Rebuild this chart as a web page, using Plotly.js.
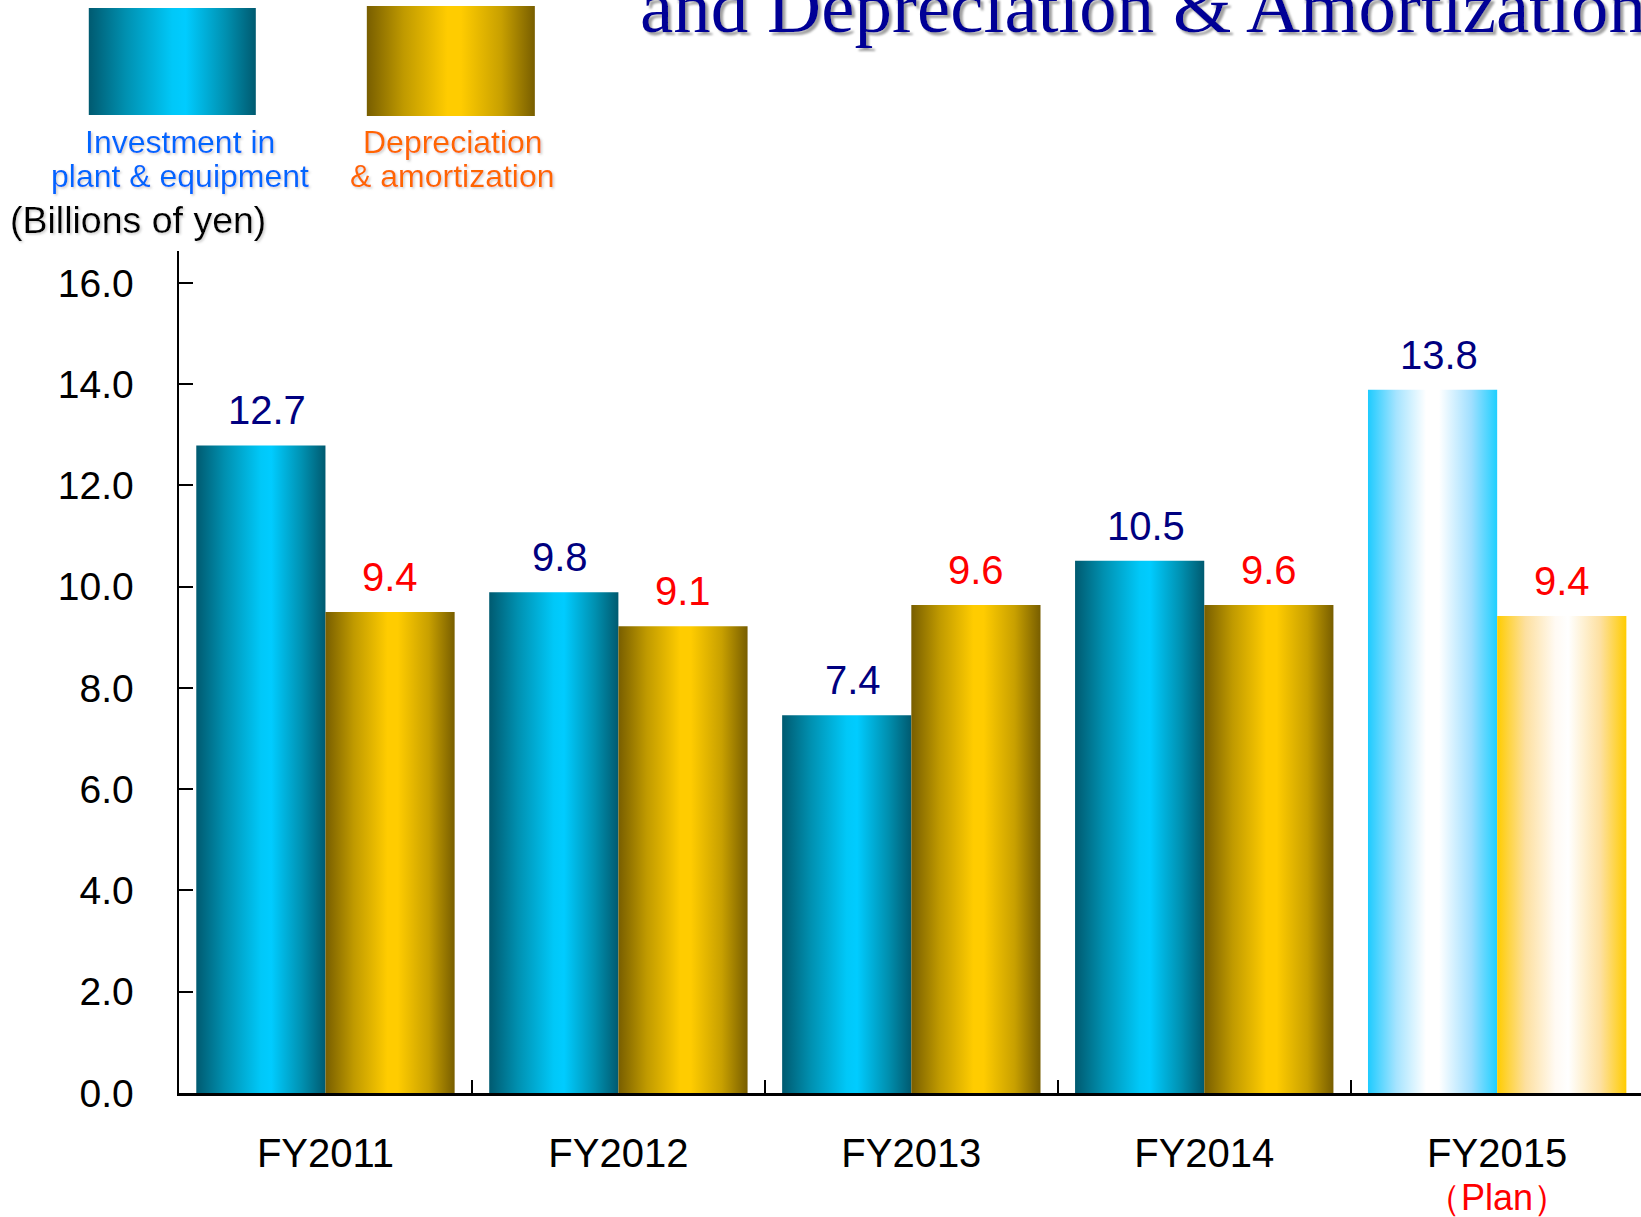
<!DOCTYPE html>
<html><head><meta charset="utf-8">
<script src="https://cdn.plot.ly/plotly-3.0.1.min.js"></script>
<style>html,body{margin:0;padding:0;background:#fff;} #chart{width:1641px;height:1217px;}</style>
</head><body><div id="chart"></div>
<script>
// ---- data ----
const categories = ['FY2011', 'FY2012', 'FY2013', 'FY2014', 'FY2015'];
const tickLabels = ['FY2011', 'FY2012', 'FY2013', 'FY2014', 'FY2015'];
const planCategory = 'FY2015';
const planNote = '（Plan）';
const investment = [12.79, 9.89, 7.46, 10.51, 13.89];
const investmentLabels = ['12.7', '9.8', '7.4', '10.5', '13.8'];
const depreciation = [9.50, 9.22, 9.64, 9.64, 9.42];
const depreciationLabels = ['9.4', '9.1', '9.6', '9.6', '9.4'];
const legendInvestment = ['Investment in', 'plant & equipment'];
const legendDepreciation = ['Depreciation', '& amortization'];
const unitLabel = '(Billions of yen)';
const titleText = 'and Depreciation & Amortization';

// ---- geometry (pixels) ----
const W = 1641, H = 1217;
const L = 179.2, R = W, T = 251, B = 1092.7;
const px2x = p => (p - L) / (R - L);
const py2y = p => (B - p) / (B - T);
const SANS = 'Liberation Sans, Arial, sans-serif';
const SERIF = 'Liberation Serif, Times New Roman, serif';
const barHalf = 64.6;

const data = [
  {type: 'bar', name: legendInvestment.join(' '), x: categories, y: investment,
   marker: {color: '#00ccff', line: {width: 0}}, hoverinfo: 'none'},
  {type: 'bar', name: legendDepreciation.join(' '), x: categories, y: depreciation,
   marker: {color: '#ffcc00', line: {width: 0}}, hoverinfo: 'none'}
];

const annotations = [];
categories.forEach((c, i) => {
  annotations.push({x: c, y: investment[i], xref: 'x', yref: 'y', text: investmentLabels[i],
    showarrow: false, xshift: -barHalf + 6, yshift: 35, yanchor: 'middle',
    font: {family: SANS, size: 40, color: '#000080'}});
  annotations.push({x: c, y: depreciation[i], xref: 'x', yref: 'y', text: depreciationLabels[i],
    showarrow: false, xshift: barHalf, yshift: 35, yanchor: 'middle',
    font: {family: SANS, size: 40, color: '#ff0000'}});
});
const nLabelAnn = annotations.length;
// title (cut at top like the reference)
annotations.push({x: px2x(638), y: py2y(6.7), xref: 'paper', yref: 'paper', xanchor: 'left', yanchor: 'middle',
  text: titleText, showarrow: false, font: {family: SERIF, size: 75, color: '#000096'}});
// legend texts
const legTexts = [
  [legendInvestment[0], 180, 142, '#0066ff'],
  [legendInvestment[1], 180, 176, '#0066ff'],
  [legendDepreciation[0], 453, 142, '#ff6600'],
  [legendDepreciation[1], 453, 176, '#ff6600']
];
legTexts.forEach(t => annotations.push({x: px2x(t[1]), y: py2y(t[2]), xref: 'paper', yref: 'paper',
  xanchor: 'center', yanchor: 'middle', text: t[0], showarrow: false,
  font: {family: SANS, size: 32, color: t[3]}}));
annotations.push({x: px2x(138), y: py2y(220), xref: 'paper', yref: 'paper', xanchor: 'center', yanchor: 'middle',
  text: unitLabel, showarrow: false, font: {family: SANS, size: 37.5, color: '#000'}});
// plan note under the FY2015 tick label
annotations.push({x: planCategory, xref: 'x', y: py2y(1197), yref: 'paper', xanchor: 'center', yanchor: 'middle',
  text: planNote, showarrow: false, font: {family: SANS, size: 36, color: '#ff0000'}});

const shapes = [
  {type: 'rect', xref: 'paper', yref: 'paper', x0: px2x(89), x1: px2x(256), y0: py2y(115), y1: py2y(8),
   fillcolor: '#00ccff', line: {width: 0}},
  {type: 'rect', xref: 'paper', yref: 'paper', x0: px2x(367), x1: px2x(535), y0: py2y(116), y1: py2y(6),
   fillcolor: '#ffcc00', line: {width: 0}}
];

const layout = {
  width: W, height: H,
  margin: {l: L, r: 0, t: T, b: H - B, pad: 0},
  paper_bgcolor: '#ffffff', plot_bgcolor: 'rgba(0,0,0,0)',
  showlegend: false,
  barmode: 'group', bargap: 0.118, bargroupgap: 0,
  xaxis: {type: 'category', range: [-0.5, 4.491], tickmode: 'array', tickvals: categories, ticktext: tickLabels,
    showline: true, linecolor: '#000', linewidth: 2.5, ticks: 'inside', tickson: 'boundaries',
    ticklen: 13, tickwidth: 2, tickcolor: '#000', showgrid: false, zeroline: false,
    tickfont: {family: SANS, size: 40, color: '#000'}, ticklabelstandoff: 23},
  yaxis: {range: [0, 16.63], dtick: 2, tick0: 0, tickformat: '.1f',
    showline: true, linecolor: '#000', linewidth: 2.5, ticks: 'inside', ticklen: 14, tickwidth: 2, tickcolor: '#000',
    showgrid: false, zeroline: false, tickfont: {family: SANS, size: 39, color: '#000'}, ticklabelstandoff: 35},
  shapes: shapes,
  annotations: annotations
};

const NS = 'http://www.w3.org/2000/svg';
function addGrad(defs, id, stops) {
  const g = document.createElementNS(NS, 'linearGradient');
  g.setAttribute('id', id);
  g.setAttribute('x1', '0'); g.setAttribute('y1', '0'); g.setAttribute('x2', '1'); g.setAttribute('y2', '0');
  stops.forEach(s => {
    const st = document.createElementNS(NS, 'stop');
    st.setAttribute('offset', s[0]); st.setAttribute('stop-color', s[1]);
    g.appendChild(st);
  });
  defs.appendChild(g);
}
function addShadow(defs, id, d, color) {
  const f = document.createElementNS(NS, 'filter');
  f.setAttribute('id', id);
  f.setAttribute('x', '-10%'); f.setAttribute('y', '-20%'); f.setAttribute('width', '130%'); f.setAttribute('height', '150%');
  const s = document.createElementNS(NS, 'feDropShadow');
  s.setAttribute('dx', d); s.setAttribute('dy', d); s.setAttribute('stdDeviation', '0.8');
  s.setAttribute('flood-color', color); s.setAttribute('flood-opacity', '1');
  f.appendChild(s); defs.appendChild(f);
}

Plotly.newPlot('chart', data, layout, {staticPlot: true, displayModeBar: false}).then(gd => {
  const svg = gd.querySelector('.main-svg');
  let defs = svg.querySelector('defs');
  if (!defs) { defs = document.createElementNS(NS, 'defs'); svg.insertBefore(defs, svg.firstChild); }
  addGrad(defs, 'gCyan', [[0, '#005a70'], [0.22, '#0090b0'], [0.5, '#00c8f8'], [0.58, '#00ccff'], [0.82, '#0090b0'], [1, '#005a70']]);
  addGrad(defs, 'gGold', [[0, '#785e00'], [0.22, '#c09a00'], [0.48, '#ffcc00'], [0.56, '#ffcc00'], [0.8, '#c8a000'], [1, '#785e00']]);
  addGrad(defs, 'gCyanPlan', [[0, '#1ecbff'], [0.22, '#a6e4ff'], [0.45, '#ffffff'], [0.55, '#ffffff'], [0.8, '#a0dfff'], [1, '#1ecfff']]);
  addGrad(defs, 'gGoldPlan', [[0, '#ffcc00'], [0.22, '#fde0a0'], [0.45, '#fffaf3'], [0.55, '#ffffff'], [0.8, '#fde0a0'], [1, '#ffcc00']]);
  addShadow(defs, 'shTitle', '3', '#a0a0a0');
  addShadow(defs, 'shText', '1.5', '#cfcfcf');
  const normal = ['gCyan', 'gGold'], plan = ['gCyanPlan', 'gGoldPlan'];
  const planIdx = categories.indexOf(planCategory);
  gd.querySelectorAll('.barlayer .trace').forEach((tr, i) => {
    tr.querySelectorAll('.point').forEach((pt, j) => {
      const p = pt.querySelector('path');
      if (p) p.style.fill = 'url(#' + (j === planIdx ? plan[i] : normal[i]) + ')';
    });
  });
  gd.querySelectorAll('.shapelayer path').forEach((p, k) => {
    p.style.fill = 'url(#' + normal[k % 2] + ')';
  });
  const anns = gd.querySelectorAll('.infolayer .annotation');
  anns.forEach((a, k) => {
    if (k === nLabelAnn) a.setAttribute('filter', 'url(#shTitle)');
    else if (k > nLabelAnn && k <= nLabelAnn + 5) a.setAttribute('filter', 'url(#shText)');
  });
});
</script>
</body></html>
